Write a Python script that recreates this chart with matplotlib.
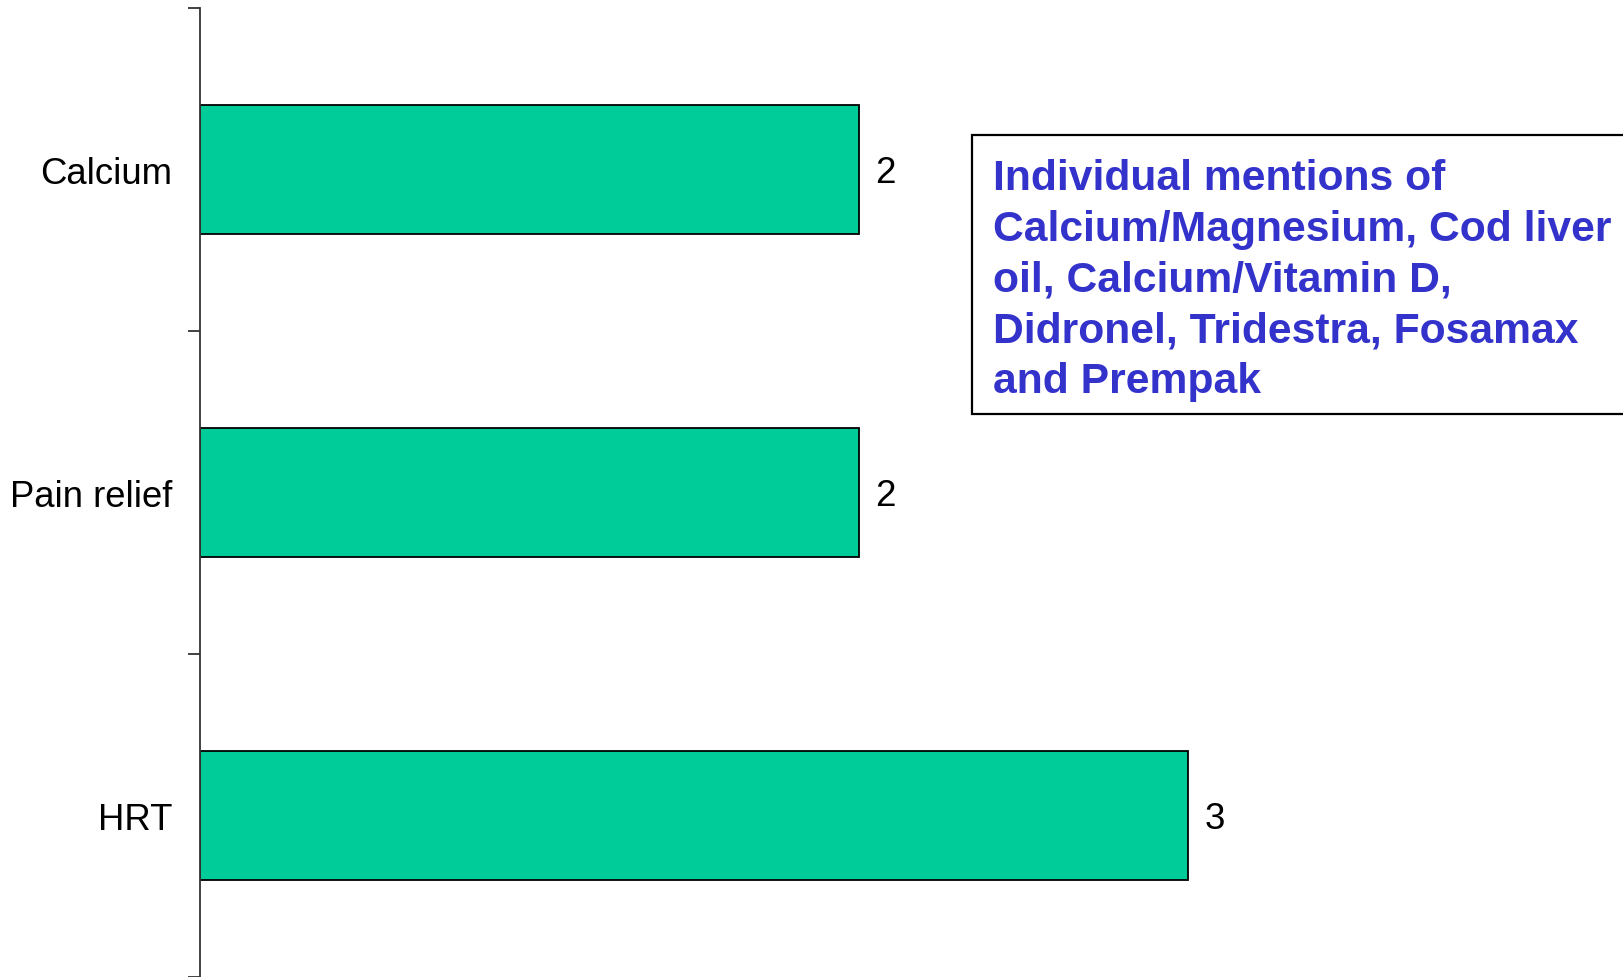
import numpy as np
import matplotlib
matplotlib.use("Agg")
from matplotlib import pyplot as plt
from matplotlib.patches import Rectangle

# Data
categories = ['Calcium', 'Pain relief', 'HRT']
counts = [2, 2, 3]
note = ('Individual mentions of\n'
        'Calcium/Magnesium, Cod liver\n'
        'oil, Calcium/Vitamin D,\n'
        'Didronel, Tridestra, Fosamax\n'
        'and Prempak')

plt.rcParams['font.family'] = ['Liberation Sans', 'DejaVu Sans']

W, H = 1623, 978
fig = plt.figure(figsize=(W / 100, H / 100), dpi=100)
ax = fig.add_axes([200 / W, 0, 1 - 200 / W, 1 - 9 / H])

y = np.arange(len(categories))
bars = ax.barh(y, counts, height=0.4, color='#00CC99', edgecolor='black', linewidth=1.3)
ax.set_ylim(len(categories) - 0.5, -0.5)
ax.set_xlim(0, 4.32)

# ticks sit between categories, labels centred on the bars
ax.set_yticks(np.arange(len(categories) + 1) - 0.5)
ax.set_yticklabels([])
ax.set_yticks(y, minor=True)
ax.set_yticklabels(categories, minor=True, fontsize=26.3)
ax.tick_params(axis='y', which='major', length=9, width=1.3, color='#333333')
ax.tick_params(axis='y', which='minor', length=0, pad=20)
ax.set_xticks([])

for s in ['top', 'right', 'bottom']:
    ax.spines[s].set_visible(False)
ax.spines['left'].set_linewidth(1.3)
ax.spines['left'].set_color('#333333')

for b, c in zip(bars, counts):
    ax.annotate(str(c), (b.get_width(), b.get_y() + b.get_height() / 2),
                xytext=(12, -2), textcoords='offset points',
                ha='left', va='center', fontsize=26.5)

# note box, running off the right edge
fig.patches.append(Rectangle((972 / W, 1 - 415 / H), 0.5, 279 / H, transform=fig.transFigure,
                             facecolor='white', edgecolor='black', linewidth=1.6))
fig.text(993 / W, 1 - 159 / H, note, ha='left', va='top', fontsize=30.7, fontweight='bold',
         color='#3333CC', linespacing=1.345)

fig.savefig('out.png', dpi=100)
